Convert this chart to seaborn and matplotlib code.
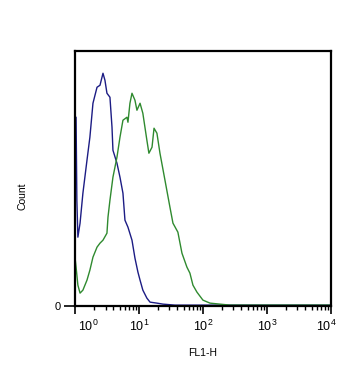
"""
FL1-H flow cytometry overlay: isotype control (blue) vs stained sample (green).
"""

import numpy as np
import pandas as pd
import matplotlib
matplotlib.use("Agg")
import matplotlib.pyplot as plt
import matplotlib.ticker as mticker
import matplotlib.transforms as mtransforms
import seaborn as sns

# control histogram (blue), FL1-H intensity vs count
control_fl1 = [1.00, 1.04, 1.07, 1.11, 1.20, 1.33, 1.54, 1.71, 1.91, 2.21, 2.46,
               2.74, 2.94, 3.16, 3.52, 3.79, 3.92, 4.53, 5.05, 5.62, 6.04, 6.73,
               7.78, 8.66, 9.64, 10.4, 11.5, 13.3, 14.9, 19.1, 23.7, 36.5, 10000]
control_count = [189, 189, 106, 69, 83, 113, 146, 169, 203, 219, 221,
                 233, 226, 213, 209, 179, 156, 143, 129, 113, 86, 79,
                 66, 48, 34, 26, 16, 8, 4, 3, 2, 1, 1]

# stained sample histogram (green)
sample_fl1 = [1.00, 1.04, 1.11, 1.20, 1.33, 1.54, 1.71, 1.91, 2.21, 2.46, 2.74,
              3.16, 3.28, 3.52, 3.92, 4.53, 5.05, 5.62, 6.49, 6.73, 7.23, 7.78,
              8.66, 9.30, 10.4, 11.5, 13.3, 14.3, 16.0, 17.2, 19.1, 21.3, 25.5,
              30.5, 34.0, 40.6, 47.0, 56.2, 62.6, 69.8, 80.6, 100, 129, 184,
              265, 10000]
sample_count = [49, 39, 21, 13, 16, 26, 36, 49, 59, 63, 66,
                73, 89, 106, 129, 149, 169, 186, 189, 184, 203, 213,
                206, 196, 203, 193, 166, 153, 159, 178, 173, 153, 126,
                99, 83, 74, 53, 39, 33, 21, 14, 6, 3, 2,
                1, 1]

decades = [1, 10, 100, 1000, 10000]
decade_labels = [r"$10^{0}$", r"$10^{1}$", r"$10^{2}$", r"$10^{3}$", r"$10^{4}$"]

control = pd.DataFrame({"FL1-H": control_fl1, "Count": control_count})
sample = pd.DataFrame({"FL1-H": sample_fl1, "Count": sample_count})

sns.set_style("white")
plt.rcParams["font.family"] = ["Liberation Sans", "DejaVu Sans"]
plt.rcParams["mathtext.fontset"] = "custom"
plt.rcParams["mathtext.rm"] = "Liberation Sans"
plt.rcParams["mathtext.it"] = "Liberation Sans"
plt.rcParams["text.color"] = "black"
plt.rcParams["axes.labelcolor"] = "black"
plt.rcParams["xtick.color"] = "black"
plt.rcParams["ytick.color"] = "black"

fig = plt.figure(figsize=(3.64, 3.77), dpi=100)
ax = fig.add_axes([0.206, 0.188, 0.703, 0.676])

sns.lineplot(data=control, x="FL1-H", y="Count", ax=ax, color="#1c1c84",
             linewidth=1.0, estimator=None, sort=False)
sns.lineplot(data=sample, x="FL1-H", y="Count", ax=ax, color="#2f8a2f",
             linewidth=1.0, estimator=None, sort=False)

ax.set_xscale("log")
ax.set_xlim(1, 10000)
ax.set_ylim(0, 255)

ax.xaxis.set_major_locator(mticker.FixedLocator(decades))
ax.xaxis.set_minor_locator(mticker.LogLocator(base=10, subs=np.arange(2, 10)))
ax.xaxis.set_minor_formatter(mticker.NullFormatter())
ax.set_xticklabels(decade_labels)

ax.set_yticks([0])
ax.set_yticklabels(["0"])

ax.tick_params(axis="x", which="major", direction="out", length=6, width=1.2,
               labelsize=9, pad=3, bottom=True)
ax.tick_params(axis="x", which="minor", direction="out", length=3, width=1.0,
               bottom=True)
ax.tick_params(axis="y", direction="out", length=8, width=1.2, labelsize=8,
               left=True, pad=2)

# keep the end labels inside the axis span, as in the cytometer export
labels = ax.get_xticklabels()
labels[0].set_transform(labels[0].get_transform() +
                        mtransforms.ScaledTranslation(0.13, 0, fig.dpi_scale_trans))
labels[-1].set_transform(labels[-1].get_transform() +
                         mtransforms.ScaledTranslation(-0.05, 0, fig.dpi_scale_trans))

for side in ["left", "bottom", "top", "right"]:
    ax.spines[side].set_visible(True)
    ax.spines[side].set_color("black")
    ax.spines[side].set_linewidth(1.6)

ax.set_xlabel("FL1-H", fontsize=7.5, labelpad=10)
ax.set_ylabel("Count", fontsize=7.5)
ax.yaxis.set_label_coords(-0.184, 0.43)

fig.savefig("out.png", dpi=100)
